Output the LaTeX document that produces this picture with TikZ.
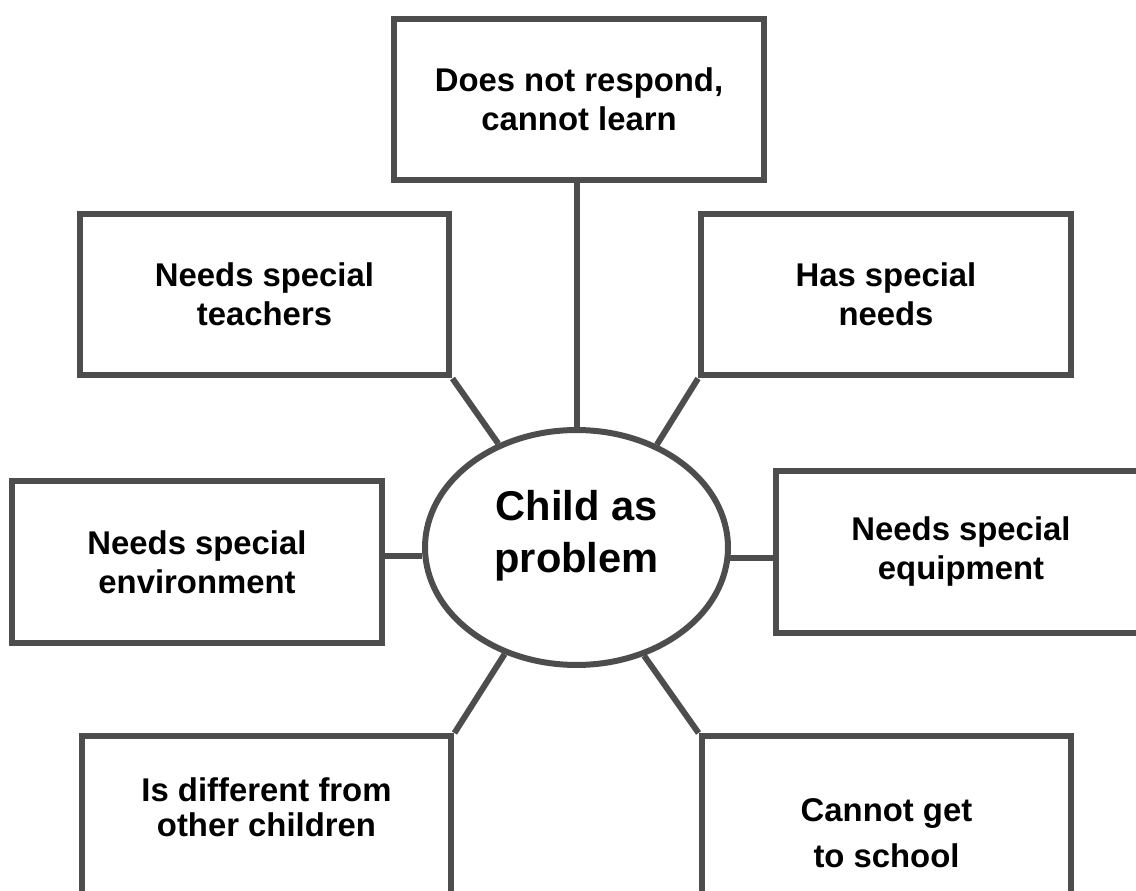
\documentclass[tikz,border=0pt]{standalone}
\usepackage{fontspec}
\setmainfont{Liberation Sans}
\usetikzlibrary{shapes.geometric}
\definecolor{edgegrey}{HTML}{4D4D4D}
\tikzset{
    need-box/.style = {draw=edgegrey, line width=0.12cm, rectangle, minimum width=7.4cm, minimum height=3.24cm, inner sep=0pt, align=center, font=\fontsize{18.7}{22.2}\selectfont\bfseries},
    open-box/.style = {need-box, minimum height=4cm, anchor=north},
    need-text/.style = {align=center, inner sep=0pt, font=\fontsize{18.7}{19.9}\selectfont\bfseries},
    child-oval/.style = {draw=edgegrey, fill=white, line width=0.12cm, ellipse, minimum width=6.06cm, minimum height=4.7cm, inner sep=0pt},
    child-text/.style = {align=center, inner sep=0pt, font=\fontsize{23.7}{29.6}\selectfont\bfseries},
    link/.style = {draw=edgegrey, line width=0.12cm},
}

\begin{document}
\begin{tikzpicture}[x=0.02cm, y=-0.02cm]
\useasboundingbox (0,0) rectangle (1136,891);
\clip (0,0) rectangle (1136,891);

% the child in the middle
\node[child-oval] (child) at (576.5,547.5) {};
\node[child-text] (childtext) at (576.5,535.5) {Child as\\problem};

% the boxes round it
\node[need-box] (resp) at (579,99.5) {Does not respond,\\cannot learn};
\node[need-box] (teach) at (264.5,294.5) {Needs special\\teachers};
\node[need-box] (has) at (886,294.5) {Has special\\needs};
\node[need-box] (env) at (197,562) {Needs special\\environment};
\node[need-box] (equip) at (961,552) {Needs special\\equipment};
\node[open-box] (diff) at (266.5,733) {};
\node[need-text] (difftext) at (266.5,807.5) {Is different from\\other children};
\node[open-box] (cannot) at (886.5,733) {};
\node[need-text] (cannottext) at (886.5,833) {Cannot get\\[6.3pt]to school};

% spokes
\draw[link] (child.north) -- (child.north |- resp.south);
\draw[link] (teach.south east) -- (child.127);
\draw[link] (has.south west) -- (child.52);
\draw[link] (child.183) -- (child.183 -| env.east);
\draw[link] (child.356) -- (child.356 -| equip.west);
\draw[link] (diff.north east) -- (child.236);
\draw[link] (cannot.north west) -- (child.302);
\end{tikzpicture}
\end{document}
